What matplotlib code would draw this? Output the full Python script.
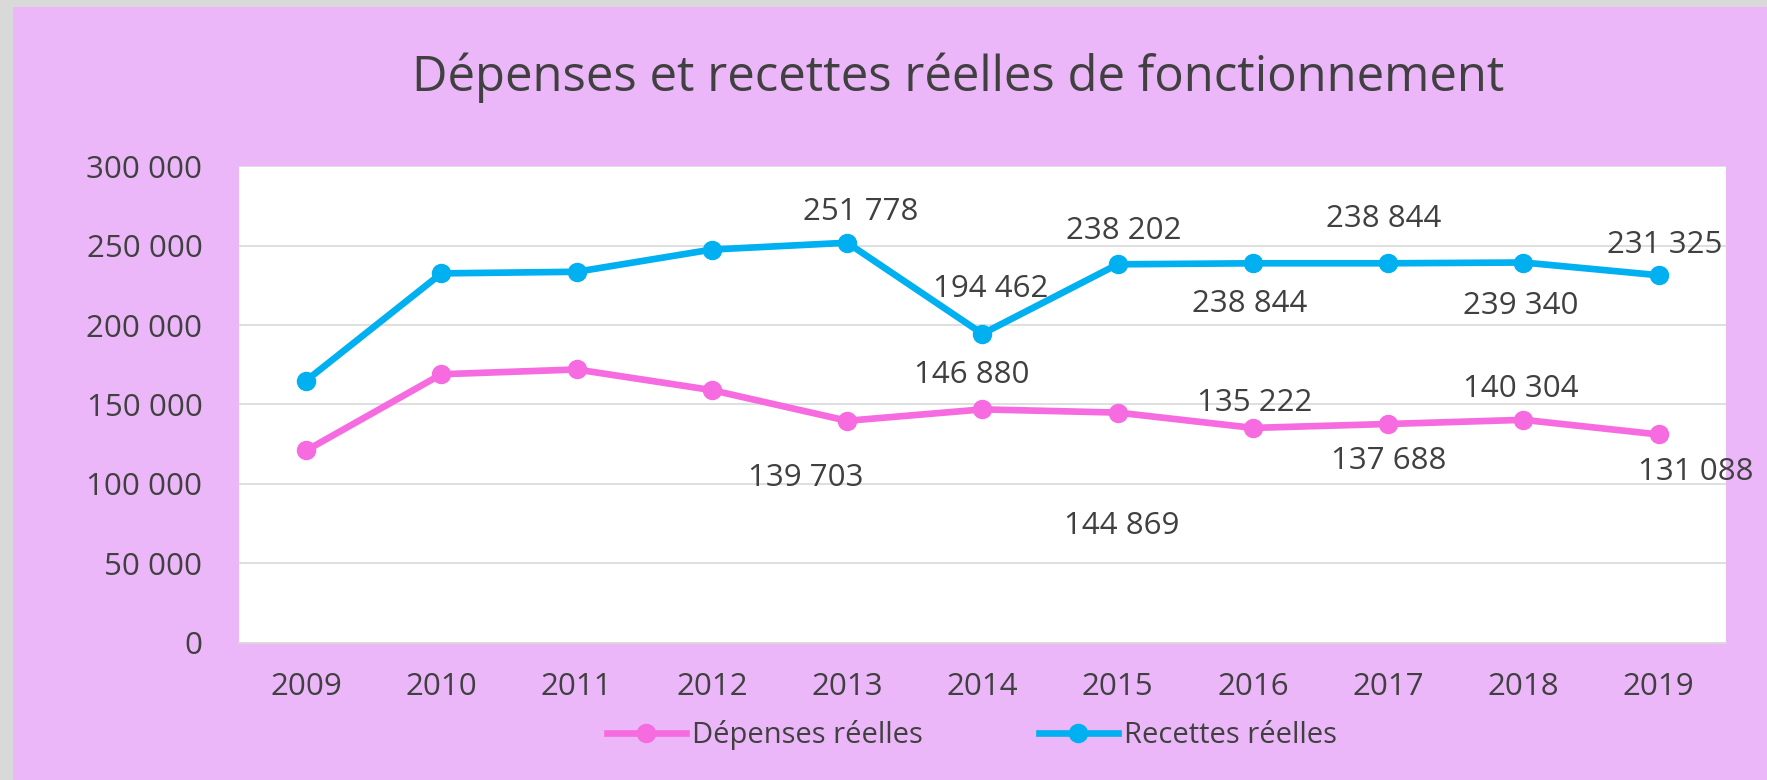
import matplotlib
matplotlib.use("Agg")
import matplotlib.pyplot as plt
import matplotlib.patches as patches
from matplotlib.ticker import FuncFormatter, MultipleLocator

plt.rcParams['font.family'] = ['Open Sans', 'DejaVu Sans']

years = ['2009', '2010', '2011', '2012', '2013', '2014', '2015', '2016', '2017', '2018', '2019']
depenses = [121000, 169000, 172000, 159000, 139703, 146880, 144869, 135222, 137688, 140304, 131088]
recettes = [165000, 232500, 233500, 247500, 251778, 194462, 238202, 238844, 238844, 239340, 231325]

# which points carry a value label (index -> label text offset in points)
dep_labels = {4: (-30, -41), 5: (-8, 25), 6: (3, -82), 7: (1, 18), 8: (0, -27), 9: (-2, 22), 10: (27, -27)}
rec_labels = {4: (10, 22), 5: (6, 32), 6: (4, 24), 7: (-2, -29), 8: (-3, 32), 9: (-2, -31), 10: (4, 22)}

pink = '#F76BE0'
blue = '#00B0F0'
bg = '#EBB7F9'
txt = '#404040'
fs = 22.5

def fmt(v, pos=None):
    return f"{int(round(v)):,}".replace(",", " ")

fig = plt.figure(figsize=(17.67, 7.8), dpi=100, facecolor='#D9D9D9')
fig.patches.append(patches.Rectangle((13/1767, 0), 1, 1 - 7/780, transform=fig.transFigure,
                                     facecolor=bg, edgecolor='none', zorder=-10))
ax = fig.add_axes([0.135, 0.176, 0.842, 0.611])
ax.set_facecolor('white')

x = list(range(len(years)))
ax.plot(x, depenses, color=pink, lw=4.8, marker='o', ms=13, label='Dépenses réelles', zorder=3)
ax.plot(x, recettes, color=blue, lw=4.8, marker='o', ms=13, label='Recettes réelles', zorder=3)

for i, (dx, dy) in dep_labels.items():
    ax.annotate(fmt(depenses[i]), (x[i], depenses[i]), xytext=(dx, dy), textcoords='offset points',
                ha='center', va='center', fontsize=fs, color=txt, annotation_clip=False)
for i, (dx, dy) in rec_labels.items():
    ax.annotate(fmt(recettes[i]), (x[i], recettes[i]), xytext=(dx, dy), textcoords='offset points',
                ha='center', va='center', fontsize=fs, color=txt, annotation_clip=False)

ax.set_xlim(-0.5, len(years) - 0.5)
ax.set_ylim(0, 300000)
ax.yaxis.set_major_locator(MultipleLocator(50000))
ax.yaxis.set_major_formatter(FuncFormatter(fmt))
ax.set_xticks(x)
ax.set_xticklabels(years)
ax.tick_params(axis='both', length=0, labelsize=fs, labelcolor=txt)
ax.tick_params(axis='y', pad=26)
ax.tick_params(axis='x', pad=21)
ax.grid(axis='y', color='#D9D9D9', lw=1.2)
ax.set_axisbelow(True)
for s in ['top', 'right', 'left']:
    ax.spines[s].set_visible(False)
ax.spines['bottom'].set_color('#D9D9D9')
ax.spines['bottom'].set_linewidth(1.2)

fig.text(0.542, 0.9, 'Dépenses et recettes réelles de fonctionnement', ha='center', va='center',
         fontsize=35.3, color=txt)

fig.legend(loc='center', bbox_to_anchor=(0.55, 0.058), ncol=2, frameon=False, fontsize=21,
           handlelength=2.7, handletextpad=0.2, columnspacing=4.0, labelcolor=txt)

fig.savefig('out.png', dpi=100, facecolor=fig.get_facecolor())
